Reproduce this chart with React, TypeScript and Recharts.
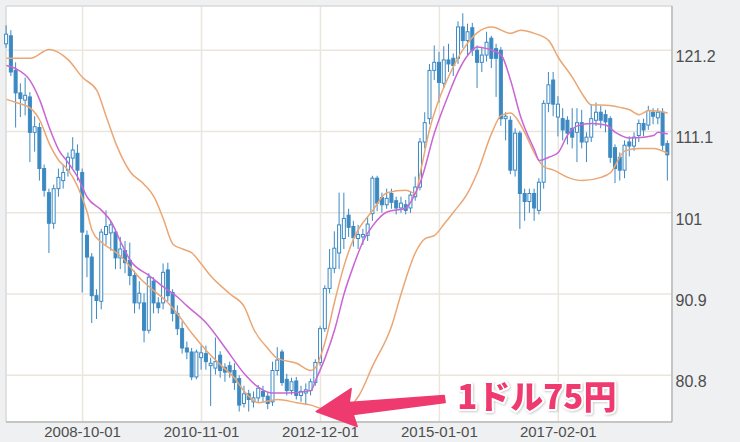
import React from "react"
import {
  ComposedChart,
  Bar,
  Line,
  XAxis,
  YAxis,
  CartesianGrid,
  ReferenceArea,
  ReferenceDot,
} from "recharts"

// monthly candles, 2007-06 .. 2019-01
const opens = [
  122.0, 123.0, 118.7, 115.9, 115.0, 115.4, 111.0, 111.6, 106.5, 103.5,
  99.7, 104.0, 105.0, 106.3, 107.8, 108.4, 106.0, 98.2, 95.5, 90.7,
  90.0, 98.3, 98.5, 98.6, 95.4, 96.3, 95.1, 93.2, 89.8, 89.8,
  86.4, 92.5, 89.8, 89.8, 93.9, 91.1, 88.5, 86.6, 84.2, 83.7,
  80.6, 83.0, 83.5, 82.0, 81.7, 83.3, 81.8, 82.0, 81.4, 80.4,
  77.3, 78.5, 77.5, 78.0, 78.8, 78.2, 77.5, 81.4, 83.7, 80.3,
  78.9, 80.1, 78.3, 78.6, 78.9, 79.9, 82.4, 86.6, 91.6, 94.1,
  96.0, 97.8, 100.7, 99.3, 97.8, 98.0, 98.2, 100.9, 105.3, 102.9,
  102.0, 103.4, 102.5, 101.6, 102.0, 101.6, 103.0, 104.2, 109.8, 112.7,
  118.7, 119.7, 117.1, 120.0, 120.2, 120.2, 124.1, 122.4, 124.0, 121.2,
  119.7, 120.6, 122.7, 121.4, 121.2, 112.7, 112.5, 106.3, 110.9, 103.4,
  102.4, 103.4, 101.3, 104.8, 114.6, 117.5, 112.9, 112.7, 112.5, 111.5,
  111.0, 112.2, 109.8, 110.4, 112.5, 113.5, 113.2, 112.7, 109.1, 107.9,
  106.3, 109.8, 109.3, 110.6, 112.1, 111.9, 113.5, 112.8, 113.5, 109.6,
]
const highs = [
  124.3, 123.7, 119.7, 117.1, 117.8, 116.0, 113.0, 112.2, 107.0, 104.0,
  104.5, 106.5, 107.0, 108.5, 110.4, 109.5, 106.5, 98.8, 96.0, 91.5,
  99.0, 101.3, 100.0, 99.0, 98.0, 97.5, 97.3, 93.8, 92.5, 91.0,
  93.5, 93.0, 90.5, 94.7, 94.8, 91.5, 89.5, 87.5, 85.0, 84.2,
  84.0, 84.5, 84.5, 83.0, 85.5, 83.8, 82.3, 82.5, 82.3, 80.8,
  79.5, 79.0, 78.8, 79.6, 79.5, 78.7, 82.5, 84.3, 84.0, 81.0,
  80.5, 80.6, 79.5, 79.8, 80.4, 82.8, 86.9, 92.0, 96.5, 98.7,
  103.5, 103.5, 101.5, 100.0, 99.5, 99.0, 100.5, 105.6, 105.6, 103.5,
  104.0, 104.0, 103.0, 103.0, 102.6, 103.6, 105.5, 110.3, 113.5, 119.5,
  121.8, 121.0, 121.7, 122.0, 120.8, 124.8, 125.8, 124.5, 124.6, 121.8,
  121.5, 123.5, 123.0, 122.0, 121.6, 113.5, 113.0, 111.5, 111.2, 104.0,
  104.0, 104.0, 105.3, 115.0, 118.5, 118.5, 115.5, 114.0, 113.0, 114.0,
  114.0, 113.8, 111.0, 114.5, 114.7, 114.3, 113.8, 113.0, 109.5, 108.5,
  110.0, 110.5, 111.0, 112.6, 112.7, 114.3, 114.0, 114.0, 114.0, 110.0,
]
const lows = [
  121.5, 118.0, 111.6, 112.9, 113.1, 107.3, 108.6, 105.0, 103.0, 96.0,
  99.0, 103.0, 104.0, 105.5, 106.5, 105.0, 91.1, 93.0, 87.3, 87.8,
  89.0, 97.0, 96.3, 94.0, 94.0, 93.5, 92.0, 88.5, 89.0, 84.9,
  86.0, 88.5, 88.5, 89.0, 90.0, 87.5, 85.8, 83.5, 82.8, 80.2,
  80.3, 81.5, 81.5, 77.0, 80.9, 80.5, 80.0, 80.5, 79.0, 76.3,
  76.8, 76.3, 76.8, 77.5, 77.5, 76.6, 77.0, 80.8, 79.5, 78.3,
  78.4, 77.8, 77.5, 77.1, 78.3, 79.5, 82.0, 86.2, 91.0, 93.5,
  94.0, 96.5, 98.0, 96.8, 96.5, 97.0, 97.5, 100.0, 101.2, 101.0,
  101.5, 101.5, 100.8, 101.0, 100.8, 101.0, 102.5, 103.8, 109.0, 112.0,
  117.5, 114.7, 116.5, 118.5, 118.0, 119.5, 121.5, 120.5, 120.5, 116.5,
  118.5, 119.8, 119.0, 115.4, 111.8, 110.0, 105.8, 105.5, 99.0, 100.0,
  101.0, 100.0, 100.8, 104.0, 113.5, 113.0, 110.5, 110.0, 109.5, 109.0,
  107.3, 109.0, 107.3, 109.8, 111.8, 111.5, 111.0, 107.2, 104.7, 105.0,
  105.3, 108.0, 108.7, 109.8, 110.5, 111.3, 112.0, 112.0, 108.8, 105.0,
]
const closes = [
  123.2, 118.5, 115.9, 115.2, 115.6, 111.0, 111.7, 106.5, 103.8, 99.7,
  104.0, 105.4, 106.0, 107.9, 108.8, 106.3, 98.6, 95.5, 90.7, 90.1,
  98.6, 99.3, 99.5, 95.4, 96.5, 94.8, 93.2, 89.8, 91.0, 86.4,
  93.0, 89.8, 89.2, 93.6, 90.7, 88.5, 86.6, 84.2, 83.7, 80.6,
  83.7, 83.6, 82.5, 82.3, 82.5, 81.4, 81.2, 81.2, 79.9, 77.1,
  78.5, 77.8, 78.0, 79.2, 78.2, 77.3, 81.4, 82.7, 79.9, 78.9,
  80.0, 78.3, 78.8, 79.0, 80.0, 82.4, 86.6, 91.6, 94.1, 96.6,
  99.5, 100.3, 99.2, 97.9, 98.3, 98.3, 99.6, 105.3, 102.2, 102.0,
  102.8, 102.3, 101.6, 102.2, 101.3, 103.2, 104.2, 109.8, 112.2, 118.7,
  119.7, 117.2, 120.0, 119.5, 119.3, 124.1, 122.4, 123.5, 121.2, 119.7,
  120.6, 122.2, 120.2, 120.2, 112.7, 113.0, 106.3, 110.9, 103.4, 102.4,
  103.4, 101.6, 104.8, 114.6, 116.9, 114.5, 114.5, 111.3, 110.9, 110.4,
  112.2, 109.8, 110.4, 112.7, 113.5, 112.5, 112.3, 107.9, 106.5, 106.3,
  109.4, 109.3, 110.4, 112.1, 111.3, 113.7, 113.0, 113.5, 109.4, 108.2,
]

// bands: [month index, value]
const upperBand: [number, number][] = [
  [0, 120.2], [5, 120.2], [9, 121.3], [13, 120.0], [16, 117.8], [19, 116.2],
  [21, 112.9], [23, 109.6], [26, 106.1], [29, 104.5], [31, 103.0], [33, 100.2],
  [35, 97.1], [37, 96.5], [39, 96.0], [41, 94.6], [43, 93.1], [47, 90.9],
  [50, 89.3], [52, 86.5], [55, 84.1], [57, 82.9], [61, 82.3], [64, 81.4],
  [65, 81.8], [67, 85.0], [69, 90.0], [71, 94.5], [73, 97.8], [77, 101.3],
  [80, 103.5], [84, 103.8], [86, 103.4], [87, 106.0], [89, 111.5], [91, 115.2],
  [93, 118.0], [96, 121.3], [99, 123.4], [102, 124.1], [106, 123.3], [108, 123.7],
  [111, 123.3], [114, 122.4], [116, 120.3], [119, 117.8], [121, 115.8], [123, 114.4],
  [125, 114.4], [129, 114.1], [131, 113.8], [133, 113.2], [135, 113.7], [139, 113.4],
]
const midLine: [number, number][] = [
  [0, 119.3], [2, 118.9], [5, 117.4], [7, 115.0], [9, 111.6], [11, 108.8],
  [13, 107.2], [15, 105.4], [17, 102.9], [20, 101.3], [22, 99.9], [24, 97.4],
  [26, 95.1], [30, 93.2], [33, 91.8], [36, 90.5], [38, 89.4], [42, 87.3],
  [46, 84.2], [50, 81.0], [53, 79.3], [56, 78.6], [59, 78.6], [64, 78.9],
  [65, 80.2], [67, 83.0], [69, 86.5], [71, 91.0], [73, 94.5], [75, 97.5],
  [77, 99.4], [80, 101.1], [84, 101.6], [86, 103.5], [87, 104.8], [90, 111.0],
  [93, 115.8], [95, 118.6], [97, 120.6], [99, 121.6], [101, 121.4], [104, 120.6],
  [106, 117.4], [108, 113.1], [111, 108.8], [112, 107.5], [114, 107.9], [116, 108.5],
  [118, 110.7], [120, 111.8], [123, 112.1], [126, 111.9], [128, 111.0], [131, 110.3],
  [134, 110.4], [136, 110.6], [137, 111.0], [139, 110.8],
]
const lowerBand: [number, number][] = [
  [0, 115.1], [2, 114.7], [5, 114.0], [7, 112.5], [9, 109.6], [11, 107.5],
  [13, 106.3], [15, 104.2], [17, 101.0], [18, 98.8], [20, 97.3], [22, 96.5],
  [24, 95.6], [28, 92.9], [31, 91.3], [34, 89.8], [36, 88.4], [39, 86.0],
  [42, 83.9], [45, 82.1], [48, 80.4], [50, 78.8], [53, 77.4], [57, 77.8],
  [61, 77.4], [64, 77.1], [66, 76.7], [69, 76.5], [72, 76.9], [74, 78.2],
  [77, 82.0], [81, 87.0], [83, 91.0], [86, 96.1], [88, 97.8], [90, 98.2],
  [92, 99.6], [94, 101.1], [97, 103.5], [99, 106.0], [102, 110.9], [104, 113.1],
  [106, 113.4], [107, 112.9], [109, 110.9], [111, 108.4], [113, 106.7], [115, 106.3],
  [118, 105.4], [121, 105.0], [125, 105.4], [127, 106.0], [130, 108.7], [133, 109.0],
  [136, 109.0], [139, 108.4],
]

const xTicks = [16, 41, 66, 91, 116]
const xTickLabels = ["2008-10-01", "2010-11-01", "2012-12-01", "2015-01-01", "2017-02-01"]
const yTicks = [80.8, 90.9, 101, 111.1, 121.2]

const note = { m: 65.1, v: 76.3, text: "1ドル75円" }

const BLUE = "#3c89c2"
const ORANGE = "#eba674"
const MAGENTA = "#c965d5"
const PINK = "#ef3a6f"
const FONT = "'Liberation Sans', Arial, sans-serif"

const upMap = new Map(upperBand)
const midMap = new Map(midLine)
const loMap = new Map(lowerBand)

const data = opens.map((o, m) => ({
  m,
  o,
  h: highs[m],
  l: lows[m],
  c: closes[m],
  up: upMap.get(m) ?? null,
  mid: midMap.get(m) ?? null,
  lo: loMap.get(m) ?? null,
}))

function Candle(props: any) {
  const { x, y, width, height, payload } = props
  if (!payload || height == null) return null
  const top = Math.min(y, y + height)
  const span = Math.abs(height)
  const k = span / (payload.h - payload.l)
  const cx = x + width / 2
  const yo = top + (payload.h - payload.o) * k
  const yc = top + (payload.h - payload.c) * k
  const rising = payload.c >= payload.o
  return (
    <g>
      <line x1={cx} x2={cx} y1={top} y2={top + span} stroke={BLUE} strokeWidth={1} />
      <rect
        x={x + 0.5}
        y={Math.min(yo, yc)}
        width={width - 1}
        height={Math.max(Math.abs(yo - yc), 1)}
        fill={rising ? "#fff" : BLUE}
        stroke={BLUE}
        strokeWidth={1}
      />
    </g>
  )
}

function XTick({ x, y, payload }: any) {
  return (
    <text x={x} y={y + 15} textAnchor="middle" fontSize={15} fill="#4d4d4d" fontFamily={FONT}>
      {xTickLabels[xTicks.indexOf(payload.value)]}
    </text>
  )
}

function YTick({ x, y, payload }: any) {
  return (
    <text x={x + 3.5} y={y + 11.8} textAnchor="start" fontSize={16} fill="#4d4d4d" fontFamily={FONT}>
      {payload.value}
    </text>
  )
}

// arrow pointing at the low, with the label to its right
function ArrowNote({ cx, cy }: any) {
  const pts = [
    [0, 0], [35, -23], [33, -9], [128, -16], [129, -9], [37, 3], [41, 15],
  ]
    .map(([dx, dy]) => `${cx + dx},${cy + dy}`)
    .join(" ")
  return (
    <g>
      <polygon points={pts} fill={PINK} stroke={PINK} strokeWidth={1.5} strokeLinejoin="round" />
      <text
        x={cx + 141}
        y={cy - 3}
        fontSize={33}
        fontWeight={900}
        fontFamily="'Noto Sans CJK JP', sans-serif"
        fill={PINK}
        stroke="#fff"
        strokeWidth={4}
        strokeLinejoin="round"
        paintOrder="stroke"
        style={{ filter: "drop-shadow(1px 1px 1px rgba(0,0,0,0.2))" }}
      >
        {note.text}
      </text>
    </g>
  )
}

export default function App() {
  return (
    <div style={{ position: "absolute", left: 0, top: 0, width: 740, height: 442, background: "#eef0f2" }}>
      <ComposedChart width={740} height={442} data={data} margin={{ top: 6, right: 0, left: 6, bottom: 0 }}>
        <CartesianGrid fill="#fff" stroke="#ebe6dd" strokeWidth={1.5} />
        <ReferenceArea x1={-0.1} x2={139.9} y1={75} y2={126.7} fill="none" stroke="#d4d7da" />
        <XAxis
          type="number"
          dataKey="m"
          domain={[-0.1, 139.9]}
          ticks={xTicks}
          interval={0}
          height={20}
          tickLine={false}
          tickSize={0}
          tickMargin={0}
          axisLine={{ stroke: "#a9a9a9" }}
          tick={<XTick />}
        />
        <YAxis
          type="number"
          orientation="right"
          domain={[75, 126.7]}
          ticks={yTicks}
          interval={0}
          width={68}
          tickLine={false}
          tickSize={0}
          tickMargin={0}
          axisLine={{ stroke: "#a9a9a9" }}
          tick={<YTick />}
        />
        <Bar
          dataKey={(d: any) => [d.l, d.h]}
          barSize={4}
          shape={<Candle />}
          isAnimationActive={false}
        />
        <Line dataKey="up" type="monotone" stroke={ORANGE} strokeWidth={1.5} dot={false} connectNulls isAnimationActive={false} />
        <Line dataKey="lo" type="monotone" stroke={ORANGE} strokeWidth={1.5} dot={false} connectNulls isAnimationActive={false} />
        <Line dataKey="mid" type="monotone" stroke={MAGENTA} strokeWidth={1.5} dot={false} connectNulls isAnimationActive={false} />
        <ReferenceDot x={note.m} y={note.v} r={0} shape={(p: any) => <ArrowNote {...p} />} />
      </ComposedChart>
    </div>
  )
}
